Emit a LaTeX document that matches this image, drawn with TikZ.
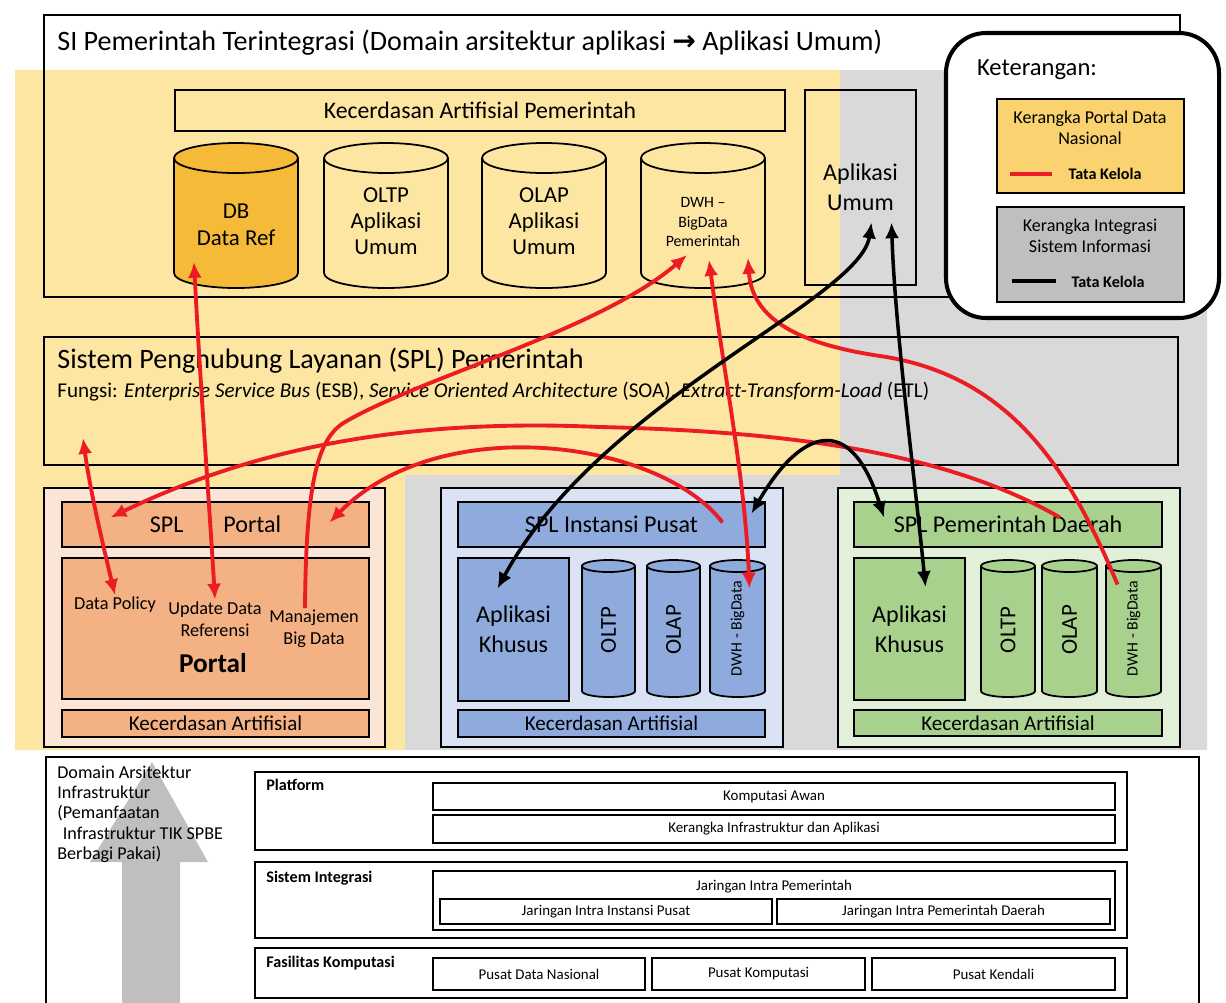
\documentclass[tikz,border=0pt]{standalone}
\usepackage{fontspec}
\setmainfont{Carlito}
\newfontfamily\simbol{DejaVu Sans}
\usepackage{graphicx}
\usepackage{tikz}
\usetikzlibrary{calc,arrows.meta}

\definecolor{bgYellow}{RGB}{253,229,162}
\definecolor{bgGray}{RGB}{217,217,217}
\definecolor{dbOrange}{RGB}{245,186,55}
\definecolor{lgYellow}{RGB}{250,211,112}
\definecolor{lgGray}{RGB}{191,191,191}
\definecolor{portalPink}{RGB}{251,229,214}
\definecolor{portalSalmon}{RGB}{244,177,131}
\definecolor{pusatLight}{RGB}{218,227,243}
\definecolor{pusatBlue}{RGB}{143,170,220}
\definecolor{daerahLight}{RGB}{226,240,217}
\definecolor{daerahGreen}{RGB}{169,209,142}
\definecolor{kelolaRed}{RGB}{235,28,36}
\definecolor{arrowGray}{RGB}{191,191,191}

\newlength\px
\setlength\px{0.02cm}

% tabung: kiri, atas, kanan, bawah (px), warna isi, jari-jari tegak elips
\newcommand\gambartabung[6]{%
  \filldraw[fill=#5, line width=1pt]
    (#1,#2+#6) -- (#1,#4-#6)
    arc[start angle=180, end angle=0, x radius={(#3-#1)/2}, y radius=#6]
    -- (#3,#2+#6)
    arc[start angle=0, end angle=-180, x radius={(#3-#1)/2}, y radius=#6] -- cycle;
  \draw[line width=1pt] (#1,#2+#6) arc[start angle=180, end angle=0, x radius={(#3-#1)/2}, y radius=#6];
}

\tikzset{
  kotak/.style={draw, line width=1pt, inner sep=0pt, align=center},
  ukuran/.style 2 args={minimum width=#1*\px, minimum height=#2*\px},
  kotakdalam/.style={kotak, line width=1.2pt, font=\fontsize{8.5}{10}\selectfont},
  teks/.style={inner sep=1pt, align=center},
  lapisan/.style={inner sep=0pt, anchor=west, font=\bfseries\fontsize{9.2}{11}\selectfont},
  merah/.style={draw=kelolaRed, line width=2.2pt},
  hitam/.style={draw=black, line width=2pt},
  >={Latex[length=9pt,width=8pt]},
}

\begin{document}
\begin{tikzpicture}[x=0.02cm, y=-0.02cm]
\useasboundingbox (0,0) rectangle (1226,1002);

% latar kerangka portal data (kuning) dan integrasi SI (abu-abu)
\fill[bgYellow] (15,70) -- (840,70) -- (840,475) -- (405,475) -- (405,750) -- (15,750) -- cycle;
\fill[bgGray] (840,70) -- (1207,70) -- (1207,750) -- (405,750) -- (405,475) -- (840,475) -- cycle;

% SI Pemerintah Terintegrasi
\node[kotak, ukuran={1136}{282}] (siframe) at (612,156) {};
\node[inner sep=0pt, anchor=west, font=\fontsize{16}{19}\selectfont] (sititle) at (57,43)
  {SI Pemerintah Terintegrasi (Domain arsitektur aplikasi {\simbol\bfseries →} Aplikasi Umum)};
\node[kotak, ukuran={610}{41}, font=\fontsize{13.5}{16}\selectfont] (kapem) at (480,110.5) {Kecerdasan Artifisial Pemerintah};
\gambartabung{174}{143}{298}{288}{dbOrange}{15}
\gambartabung{324}{143}{448}{288}{bgYellow}{15}
\gambartabung{482}{143}{606}{288}{bgYellow}{15}
\gambartabung{641}{143}{765}{288}{bgYellow}{15}
\node[teks, font=\fontsize{13}{15.5}\selectfont] (dbref) at (236,225) {DB\\Data Ref};
\node[teks, font=\fontsize{13}{14.8}\selectfont] (oltpum) at (386,221) {OLTP\\Aplikasi\\Umum};
\node[teks, font=\fontsize{13}{14.8}\selectfont] (olapum) at (544,221) {OLAP\\Aplikasi\\Umum};
\node[teks, font=\fontsize{9}{11}\selectfont] (dwhp) at (703,222) {DWH --\\BigData\\Pemerintah};
\node[kotak, ukuran={111}{195}, font=\fontsize{13.7}{17}\selectfont] (apum) at (860.5,187.5) {Aplikasi\\Umum};

% Keterangan
\node[kotak, ukuran={273}{285}, rounded corners=0.8cm, line width=2.3pt, fill=white] (legend) at (1082.5,175.5) {};
\node[teks, anchor=west, font=\fontsize{14}{16}\selectfont] (ketlabel) at (975,70) {Keterangan:};
\node[kotak, ukuran={187}{94}, fill=lgYellow] (lgpdn) at (1090.5,146) {};
\node[teks, font=\fontsize{10.3}{12}\selectfont] (lgpdntext) at (1090,128) {Kerangka Portal Data\\Nasional};
\draw[kelolaRed, line width=2.3pt] (1010,174) -- (1052,174);
\node[teks, font=\bfseries\fontsize{9.2}{10}\selectfont] (lgpdnkel) at (1105,174) {Tata Kelola};
\node[kotak, ukuran={187}{95}, fill=lgGray] (lgsis) at (1090.5,254.5) {};
\node[teks, font=\fontsize{10.3}{12}\selectfont] (lgsistext) at (1090,236) {Kerangka Integrasi\\Sistem Informasi};
\draw[black, line width=2.3pt] (1012,281) -- (1056,281);
\node[teks, font=\bfseries\fontsize{9.2}{10}\selectfont] (lgsiskel) at (1108,282) {Tata Kelola};

% Sistem Penghubung Layanan
\node[kotak, ukuran={1134}{128}] (splbus) at (611,401) {};
\node[inner sep=0pt, anchor=west, font=\fontsize{16}{19}\selectfont] (spltitle) at (57,361)
  {Sistem Penghubung Layanan (SPL) Pemerintah};
\node[inner sep=0pt, anchor=west, font=\fontsize{12}{14}\selectfont] (splfungsi) at (57,392)
  {Fungsi: \textit{Enterprise Service Bus} (ESB), \textit{Service Oriented Architecture} (SOA), \textit{Extract-Transform-Load} (ETL)};
\coordinate (splfree) at (83,438);

% Portal
\node[kotak, ukuran={341}{259}, fill=portalPink] (portalout) at (214.5,617.5) {};
\node[kotak, ukuran={307}{45}, fill=portalSalmon, font=\fontsize{13.7}{16}\selectfont] (splp) at (215.5,524.5) {SPL\hspace{40\px}Portal};
\node[kotak, ukuran={307}{141}, fill=portalSalmon] (portalmain) at (215.5,628.5) {};
\node[teks, font=\fontsize{10.4}{12.5}\selectfont] (dpol) at (115,605) {Data Policy};
\node[teks, font=\fontsize{10.4}{12.5}\selectfont] (upd) at (215,619) {Update Data\\Referensi};
\node[teks, font=\fontsize{10.4}{12.5}\selectfont] (mbd) at (314,629) {Manajemen\\Big Data};
\node[teks, font=\bfseries\fontsize{15.5}{18}\selectfont] (portalname) at (213,663) {Portal};
\node[kotak, ukuran={307}{27}, fill=portalSalmon, font=\fontsize{12}{14}\selectfont] (portalka) at (215.5,723.5) {Kecerdasan Artifisial};

% Instansi Pusat
\node[kotak, ukuran={342}{259}, fill=pusatLight] (pusatout) at (612,617.5) {};
\node[kotak, ukuran={307}{45}, fill=pusatBlue, font=\fontsize{13.7}{16}\selectfont] (splip) at (611.5,524.5) {SPL Instansi Pusat};
\node[kotak, ukuran={111}{143}, fill=pusatBlue, font=\fontsize{13.7}{17}\selectfont] (ipak) at (513.5,629.5) {Aplikasi\\Khusus};
\gambartabung{582}{560}{635}{697}{pusatBlue}{6}
\gambartabung{647}{560}{700}{697}{pusatBlue}{6}
\gambartabung{710}{560}{765}{697}{pusatBlue}{6}
\node[teks, font=\fontsize{13}{14}\selectfont] (ipoltp) at (608.5,630) {\rotatebox{90}{OLTP}};
\node[teks, font=\fontsize{13}{14}\selectfont] (ipolap) at (673.5,630) {\rotatebox{90}{OLAP}};
\node[teks, font=\fontsize{9}{10}\selectfont] (ipdwh) at (737.5,628.5) {\rotatebox{90}{DWH - BigData}};
\node[kotak, ukuran={307}{27}, fill=pusatBlue, font=\fontsize{12}{14}\selectfont] (ipka) at (611.5,723.5) {Kecerdasan Artifisial};

% Pemerintah Daerah
\node[kotak, ukuran={342}{259}, fill=daerahLight] (daerahout) at (1009,617.5) {};
\node[kotak, ukuran={308}{45}, fill=daerahGreen, font=\fontsize{13.7}{16}\selectfont] (splpd) at (1008,524.5) {SPL Pemerintah Daerah};
\node[kotak, ukuran={111}{142}, fill=daerahGreen, font=\fontsize{13.7}{17}\selectfont] (pdak) at (909.5,629) {Aplikasi\\Khusus};
\gambartabung{981}{560}{1035}{697}{daerahGreen}{6}
\gambartabung{1042}{560}{1097}{697}{daerahGreen}{6}
\gambartabung{1106}{560}{1161}{697}{daerahGreen}{6}
\node[teks, font=\fontsize{13}{14}\selectfont] (pdoltp) at (1008,630) {\rotatebox{90}{OLTP}};
\node[teks, font=\fontsize{13}{14}\selectfont] (pdolap) at (1069.5,630) {\rotatebox{90}{OLAP}};
\node[teks, font=\fontsize{9}{10}\selectfont] (pddwh) at (1133.5,628.5) {\rotatebox{90}{DWH - BigData}};
\node[kotak, ukuran={308}{26}, fill=daerahGreen, font=\fontsize{12}{14}\selectfont] (pdka) at (1008,723) {Kecerdasan Artifisial};

% Domain Arsitektur Infrastruktur
\node[kotak, ukuran={1153}{253}] (infra) at (622.5,883.5) {};
\fill[arrowGray] (122,1010) -- (122,862) -- (90,862) -- (152,762) -- (208,862) -- (180,862) -- (180,1010) -- cycle;
\node[teks, inner sep=0pt, align=left, anchor=north west, font=\fontsize{10.3}{11.4}\selectfont] (domain) at (57,766)
  {Domain Arsitektur\\Infrastruktur\\(Pemanfaatan\\\hspace*{0.3em}Infrastruktur TIK SPBE\\Berbagi Pakai)};

\node[kotak, ukuran={872}{78}] (platform) at (691,811) {};
\node[lapisan] (platformlbl) at (266,785) {Platform};
\node[kotakdalam, ukuran={682}{27}] (kawan) at (774,796.5) {Komputasi Awan};
\node[kotakdalam, ukuran={682}{28}] (kinfra) at (774,829) {Kerangka Infrastruktur dan Aplikasi};

\node[kotak, ukuran={872}{76}] (sisint) at (691,900) {};
\node[lapisan] (sisintlbl) at (266,878) {Sistem Integrasi};
\node[kotakdalam, ukuran={682}{59}] (jip) at (774,900.5) {};
\node[teks, font=\fontsize{8.5}{10}\selectfont] (jiptext) at (774,887) {Jaringan Intra Pemerintah};
\node[kotakdalam, ukuran={332}{25}] (jipusat) at (606,911.5) {Jaringan Intra Instansi Pusat};
\node[kotakdalam, ukuran={333}{25}] (jidaerah) at (943.5,911.5) {Jaringan Intra Pemerintah Daerah};

\node[kotak, ukuran={872}{50}] (faskom) at (691,973) {};
\node[lapisan] (faskomlbl) at (266,963) {Fasilitas Komputasi};
\node[kotakdalam, ukuran={212}{32}] (pdn) at (539,974) {Pusat Data Nasional};
\node[kotakdalam, ukuran={213}{32}] (pkom) at (758.5,974) {Pusat Komputasi};
\node[kotakdalam, ukuran={243}{32}] (pken) at (993.5,974) {Pusat Kendali};

% Tata Kelola Kerangka Portal Data (merah)
\draw[merah, <->] (splfree) .. controls (90,490) and (103,545) .. (dpol.north);
\draw[merah, <->] ($(dbref.center)+(-42,37)$) .. controls (200,380) and (209,500) .. (upd.north);
\draw[merah, ->] ($(mbd.north)+(-9,0)$) .. controls (306,480) and (318,438) .. (345,422)
  .. controls (420,378) and (600,330) .. ($(dwhp.center)+(-16,33)$);
\draw[merah, <->] ($(dwhp.center)+(6,38)$) .. controls (725,380) and (745,480) .. ($(ipdwh.center)+(12,-40)$);
\draw[merah, ->] ($(pddwh.center)+(-16,-44)$) .. controls (1070,470) and (1010,375) .. (880,356)
  .. controls (800,344) and (752,320) .. ($(dwhp.center)+(45,36)$);
\draw[merah, ->] ($(splpd.center)+(52,-7)$) .. controls (960,460) and (820,432) .. (600,427)
  .. controls (400,418) and (250,450) .. ($(splp.center)+(-105,-7)$);
\draw[merah, ->] ($(splip.center)+(111,-2)$) .. controls (660,440) and (440,410) .. ($(splp.center)+(114,-2)$);

% Tata Kelola Kerangka Integrasi SI (hitam)
\draw[hitam, <->] ($(apum.center)+(11,35)$) .. controls (860,300) and (600,400) .. ($(ipak.center)+(-16,-41)$);
\draw[hitam, <->] ($(apum.center)+(31,35)$) .. controls (895,330) and (915,480) .. ($(pdak.center)+(16,-42)$);
\draw[hitam, <->] ($(splip.center)+(140,-11)$) .. controls (800,430) and (850,410) .. ($(splpd.center)+(-124,-7)$);
\end{tikzpicture}
\end{document}
